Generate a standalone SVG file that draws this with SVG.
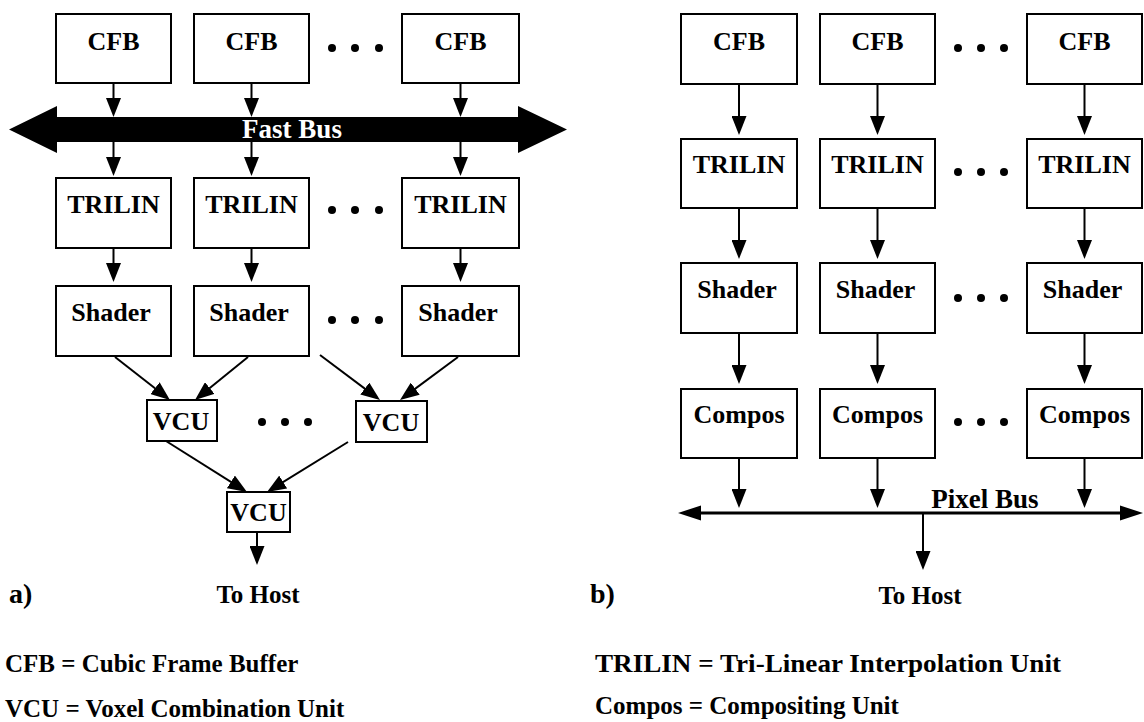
<svg xmlns="http://www.w3.org/2000/svg" width="1144" height="722" viewBox="0 0 1144 722" font-family="'Liberation Serif', serif" font-weight="bold">
<style>
  .box { fill: #fff; stroke: #000; stroke-width: 2; }
  .lbl { font-size: 26px; fill: #000; text-anchor: middle; }
  .txt { font-size: 25px; fill: #000; }
  .con { stroke: #000; stroke-width: 2; fill: none; marker-end: url(#ah); }
  .dot { fill: #000; }
</style>
<defs>
  <marker id="ah" viewBox="0 0 19 15" markerWidth="19" markerHeight="15" refX="15" refY="7.5" orient="auto" markerUnits="userSpaceOnUse">
    <path d="M0,0 L19,7.5 L0,15 Z" fill="#000"/>
  </marker>
</defs>
<rect width="1144" height="722" fill="#fff"/>

<!-- ===== Panel a ===== -->
<g id="fastbus">
  <polygon points="9,129.5 57,106 57,117 518,117 518,106 567,129.5 518,153 518,142 57,142 57,153" fill="#000"/>
  <text x="292" y="138" class="lbl" fill="#fff" style="fill:#fff;font-size:27px">Fast Bus</text>
</g>

<g id="a-cfb1"><rect class="box" x="56" y="14" width="115" height="69"/><text class="lbl" x="113.5" y="50">CFB</text></g>
<g id="a-cfb2"><rect class="box" x="194" y="14" width="115" height="69"/><text class="lbl" x="251.5" y="50">CFB</text></g>
<g id="a-cfb3"><rect class="box" x="402" y="14" width="117" height="69"/><text class="lbl" x="460.5" y="50">CFB</text></g>

<g id="a-tri1"><rect class="box" x="56" y="178" width="115" height="70"/><text class="lbl" x="113.5" y="213">TRILIN</text></g>
<g id="a-tri2"><rect class="box" x="194" y="178" width="115" height="70"/><text class="lbl" x="251.5" y="213">TRILIN</text></g>
<g id="a-tri3"><rect class="box" x="402" y="178" width="117" height="70"/><text class="lbl" x="460.5" y="213">TRILIN</text></g>

<g id="a-sh1"><rect class="box" x="56" y="286" width="115" height="70"/><text class="lbl" x="111" y="321">Shader</text></g>
<g id="a-sh2"><rect class="box" x="194" y="286" width="115" height="70"/><text class="lbl" x="249" y="321">Shader</text></g>
<g id="a-sh3"><rect class="box" x="402" y="286" width="117" height="70"/><text class="lbl" x="458" y="321">Shader</text></g>

<g id="a-vcu1"><rect class="box" x="147" y="400" width="70" height="41"/><text class="lbl" x="181" y="430">VCU</text></g>
<g id="a-vcu2"><rect class="box" x="356" y="401" width="71" height="41"/><text class="lbl" x="391" y="431">VCU</text></g>
<g id="a-vcu3"><rect class="box" x="227" y="492" width="63" height="40"/><text class="lbl" x="258.5" y="521">VCU</text></g>

<g id="a-dots">
  <circle class="dot" cx="332" cy="48" r="4"/><circle class="dot" cx="355" cy="48" r="4"/><circle class="dot" cx="379" cy="48" r="4"/>
  <circle class="dot" cx="332" cy="210" r="4"/><circle class="dot" cx="355" cy="210" r="4"/><circle class="dot" cx="379" cy="210" r="4"/>
  <circle class="dot" cx="332" cy="320" r="4"/><circle class="dot" cx="355" cy="320" r="4"/><circle class="dot" cx="379" cy="320" r="4"/>
  <circle class="dot" cx="262" cy="422" r="4"/><circle class="dot" cx="285" cy="422" r="4"/><circle class="dot" cx="308" cy="422" r="4"/>
</g>

<g id="a-text">
  <text class="txt" x="258" y="603" text-anchor="middle">To Host</text>
  <text class="txt" x="9" y="603" style="font-size:28px">a)</text>
  <text class="txt" x="5" y="672">CFB = Cubic Frame Buffer</text>
  <text class="txt" x="5" y="717">VCU = Voxel Combination Unit</text>
</g>

<!-- ===== Panel b ===== -->
<g id="b-cfb1"><rect class="box" x="681" y="14" width="116" height="70"/><text class="lbl" x="739" y="50">CFB</text></g>
<g id="b-cfb2"><rect class="box" x="820" y="14" width="115" height="70"/><text class="lbl" x="877.5" y="50">CFB</text></g>
<g id="b-cfb3"><rect class="box" x="1027" y="14" width="115" height="70"/><text class="lbl" x="1084.5" y="50">CFB</text></g>

<g id="b-tri1"><rect class="box" x="681" y="139" width="116" height="69"/><text class="lbl" x="739" y="173">TRILIN</text></g>
<g id="b-tri2"><rect class="box" x="820" y="139" width="115" height="69"/><text class="lbl" x="877.5" y="173">TRILIN</text></g>
<g id="b-tri3"><rect class="box" x="1027" y="139" width="115" height="69"/><text class="lbl" x="1084.5" y="173">TRILIN</text></g>

<g id="b-sh1"><rect class="box" x="681" y="263" width="116" height="70"/><text class="lbl" x="737" y="298">Shader</text></g>
<g id="b-sh2"><rect class="box" x="820" y="263" width="115" height="70"/><text class="lbl" x="875.5" y="298">Shader</text></g>
<g id="b-sh3"><rect class="box" x="1027" y="263" width="115" height="70"/><text class="lbl" x="1082.5" y="298">Shader</text></g>

<g id="b-co1"><rect class="box" x="681" y="389" width="116" height="69"/><text class="lbl" x="739" y="423">Compos</text></g>
<g id="b-co2"><rect class="box" x="820" y="389" width="115" height="69"/><text class="lbl" x="877.5" y="423">Compos</text></g>
<g id="b-co3"><rect class="box" x="1027" y="389" width="115" height="69"/><text class="lbl" x="1084.5" y="423">Compos</text></g>

<g id="b-dots">
  <circle class="dot" cx="958" cy="48" r="4"/><circle class="dot" cx="981" cy="48" r="4"/><circle class="dot" cx="1004" cy="48" r="4"/>
  <circle class="dot" cx="958" cy="172" r="4"/><circle class="dot" cx="981" cy="172" r="4"/><circle class="dot" cx="1004" cy="172" r="4"/>
  <circle class="dot" cx="958" cy="298" r="4"/><circle class="dot" cx="981" cy="298" r="4"/><circle class="dot" cx="1004" cy="298" r="4"/>
  <circle class="dot" cx="958" cy="422" r="4"/><circle class="dot" cx="981" cy="422" r="4"/><circle class="dot" cx="1004" cy="422" r="4"/>
</g>

<g id="pixelbus">
  <line x1="694" y1="513" x2="1128" y2="513" stroke="#000" stroke-width="3"/>
  <polygon points="678,513 701,505.5 701,520.5" fill="#000"/>
  <polygon points="1143,513 1120,505.5 1120,520.5" fill="#000"/>
  <text class="lbl" x="985" y="508" style="font-size:27px">Pixel Bus</text>
</g>

<g id="b-text">
  <text class="txt" x="920" y="604" text-anchor="middle">To Host</text>
  <text class="txt" x="590" y="603" style="font-size:28px">b)</text>
  <text class="txt" x="595" y="672" textLength="466" lengthAdjust="spacingAndGlyphs">TRILIN = Tri-Linear Interpolation Unit</text>
  <text class="txt" x="595" y="714">Compos = Compositing Unit</text>
</g>

<!-- ===== Connectors ===== -->
<g id="connectors">
  <!-- panel a -->
  <line class="con" x1="113.5" y1="83" x2="113.5" y2="113"/>
  <line class="con" x1="251.5" y1="83" x2="251.5" y2="113"/>
  <line class="con" x1="460.5" y1="83" x2="460.5" y2="113"/>
  <line class="con" x1="113.5" y1="142" x2="113.5" y2="172"/>
  <line class="con" x1="251.5" y1="142" x2="251.5" y2="172"/>
  <line class="con" x1="460.5" y1="142" x2="460.5" y2="172"/>
  <line class="con" x1="113.5" y1="248" x2="113.5" y2="278"/>
  <line class="con" x1="251.5" y1="248" x2="251.5" y2="278"/>
  <line class="con" x1="460.5" y1="248" x2="460.5" y2="278"/>
  <line class="con" x1="115" y1="357" x2="166.8" y2="397.5"/>
  <line class="con" x1="248" y1="357" x2="198.1" y2="397.5"/>
  <line class="con" x1="320" y1="355" x2="376.8" y2="397.6"/>
  <line class="con" x1="458" y1="357" x2="403.2" y2="397.6"/>
  <line class="con" x1="166" y1="441" x2="243.6" y2="489.9"/>
  <line class="con" x1="348" y1="442" x2="270.4" y2="489.9"/>
  <line class="con" x1="257" y1="532" x2="257" y2="561"/>
  <!-- panel b -->
  <line class="con" x1="739" y1="84" x2="739" y2="131"/>
  <line class="con" x1="877.5" y1="84" x2="877.5" y2="131"/>
  <line class="con" x1="1084.5" y1="84" x2="1084.5" y2="131"/>
  <line class="con" x1="739" y1="208" x2="739" y2="255"/>
  <line class="con" x1="877.5" y1="208" x2="877.5" y2="255"/>
  <line class="con" x1="1084.5" y1="208" x2="1084.5" y2="255"/>
  <line class="con" x1="739" y1="333" x2="739" y2="380"/>
  <line class="con" x1="877.5" y1="333" x2="877.5" y2="380"/>
  <line class="con" x1="1084.5" y1="333" x2="1084.5" y2="380"/>
  <line class="con" x1="739" y1="458" x2="739" y2="504"/>
  <line class="con" x1="877.5" y1="458" x2="877.5" y2="504"/>
  <line class="con" x1="1084.5" y1="458" x2="1084.5" y2="504"/>
  <line class="con" x1="923" y1="514" x2="923" y2="566"/>
</g>
</svg>
